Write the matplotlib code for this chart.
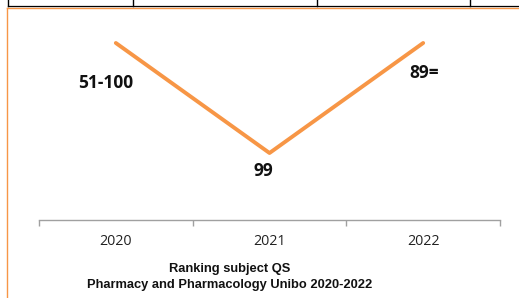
import matplotlib.pyplot as plt
from matplotlib.lines import Line2D

# Chart data
YEARS = ["2020", "2021", "2022"]
RANK_POSITION = [89, 99, 89]          # plotted position (lower rank = higher on chart)
RANK_LABELS = ["51-100", "99", "89="]
LABEL_OFFSETS_PX = [(-10, -40), (-6, -18), (1, -30)]

TITLE = "Ranking subject QS\nPharmacy and Pharmacology Unibo 2020-2022"

W, H = 519, 298
ORANGE = "#F79646"


def px(x, y):
    """Pixel coords (top-left origin) -> figure fraction."""
    return x / W, 1 - y / H


fig = plt.figure(figsize=(W / 100, H / 100), dpi=100)

# Plot area: x 39..500 px, y 20..220 px
x0, y1 = px(39, 220)
x1, y0 = px(500, 20)
ax = fig.add_axes([x0, y1, x1 - x0, y0 - y1])

xs = list(range(len(YEARS)))
ax.plot(xs, RANK_POSITION, color=ORANGE, linewidth=2.8, solid_capstyle="round")
ax.set_xlim(-0.5, len(YEARS) - 0.5)
ax.set_ylim(105.09, 86.91)

for x, y, lab, (dx, dy) in zip(xs, RANK_POSITION, RANK_LABELS, LABEL_OFFSETS_PX):
    ax.annotate(lab, (x, y), xytext=(dx * 0.72, dy * 0.72), textcoords="offset points",
                ha="center", va="center", fontsize=12.5, fontweight="bold",
                family="Open Sans", color="#111111")

for side in ("left", "top", "right"):
    ax.spines[side].set_visible(False)
ax.spines["bottom"].set_color("#A0A0A0")
ax.spines["bottom"].set_linewidth(1.0)
ax.set_yticks([])
ax.set_xticks([-0.5, 0.5, 1.5, 2.5])
ax.set_xticklabels([])
ax.tick_params(axis="x", which="major", length=4, color="#A0A0A0", width=1.0)
ax.set_xticks(xs, minor=True)
ax.set_xticklabels(YEARS, minor=True, fontsize=10.3, family="Open Sans", color="#222222")
ax.tick_params(axis="x", which="minor", length=0, pad=10)

# Title below the plot
tx, ty = px(230, 277)
fig.text(tx, ty, TITLE, ha="center", va="center", fontsize=9.3, fontweight="bold",
         family="Liberation Sans", linespacing=1.4, color="#111111")

# Orange chart frame (top and left edges visible)
fig.add_artist(Line2D([6.5 / W, 1], [1 - 8 / H, 1 - 8 / H], color=ORANGE, linewidth=1.0))
fig.add_artist(Line2D([6.5 / W, 6.5 / W], [0, 1 - 8 / H], color=ORANGE, linewidth=1.0))

# Table row remnant above the chart
fig.add_artist(Line2D([8 / W, 1], [1 - 6 / H, 1 - 6 / H], color="black", linewidth=0.9))
for xv in (8, 133, 317, 470):
    fig.add_artist(Line2D([xv / W, xv / W], [1 - 6 / H, 1], color="black", linewidth=1.0))

fig.savefig("out.png", dpi=100)
